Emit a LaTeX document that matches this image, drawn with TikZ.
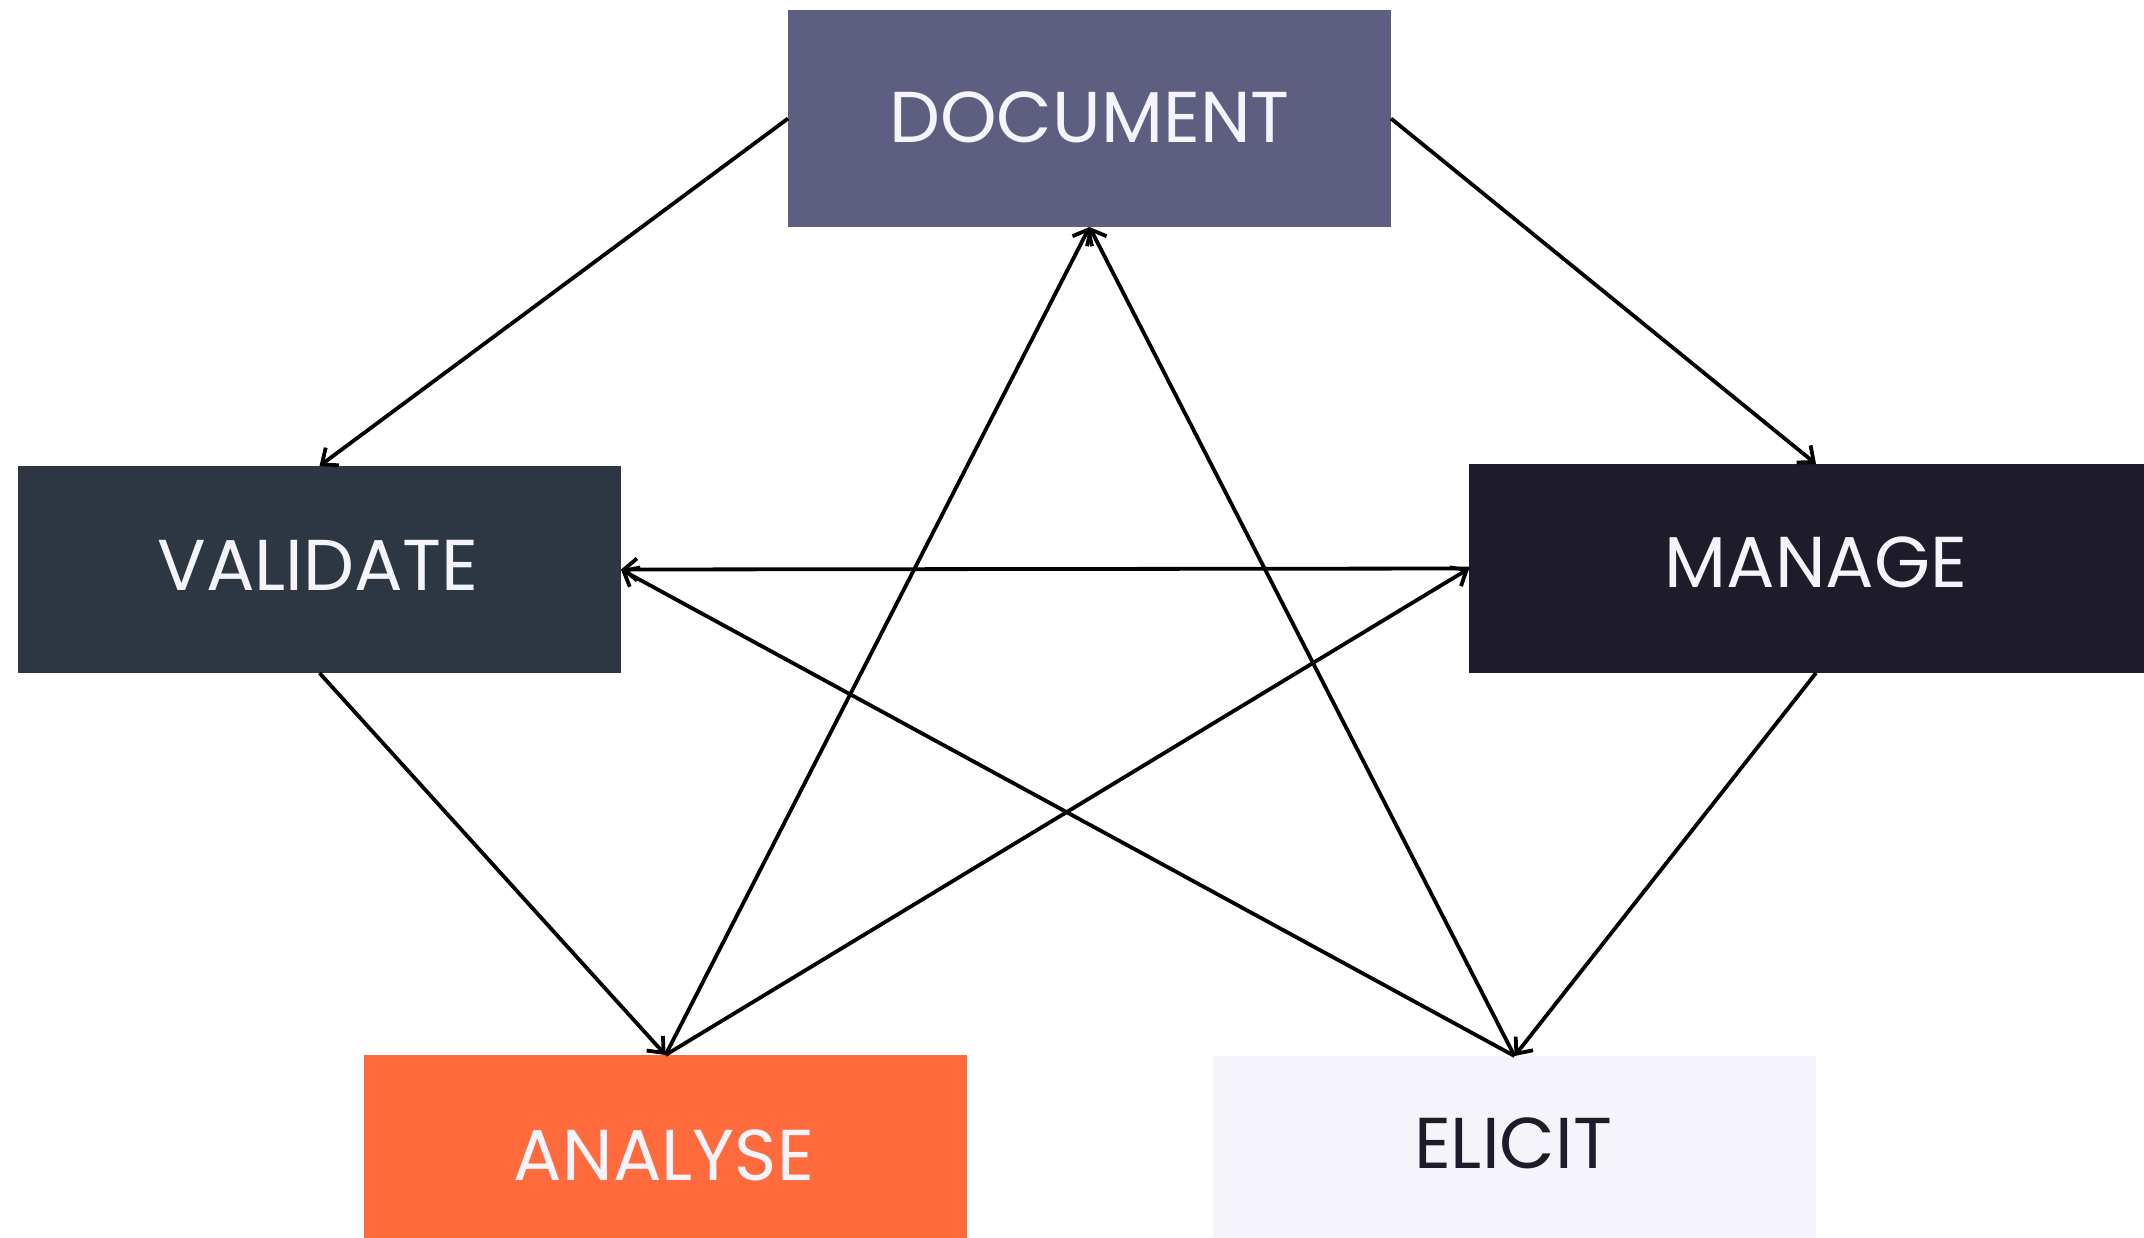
\documentclass[tikz,border=0pt]{standalone}
\usepackage{fontspec}
\setmainfont{Poppins}
\usetikzlibrary{arrows.meta}
\definecolor{docc}{HTML}{5E5E80}
\definecolor{valc}{HTML}{2D3743}
\definecolor{manc}{HTML}{1E1B2B}
\definecolor{anac}{HTML}{FF6B3D}
\definecolor{elic}{HTML}{F4F4FA}
\definecolor{txtw}{HTML}{F4F4FA}
\definecolor{txtd}{HTML}{1E1B2B}
\tikzset{
  box/.style={rectangle, draw=none, inner sep=0pt, outer sep=0pt},
  lbl/.style={inner sep=0pt, font=\fontsize{72}{80}\selectfont},
  conn/.style={line width=3.8pt, black, -{Straight Barb[length=13pt,width=22pt]}}
}
\begin{document}
\begin{tikzpicture}[x=1pt,y=-1pt]
\useasboundingbox (0,0) rectangle (2144,1237);
\fill[white] (0,0) rectangle (2144,1237);
% boxes
\node[box, fill=docc, minimum width=603pt, minimum height=217pt] (doc) at (1089.5,118.5) {};
\node[box, fill=valc, minimum width=603pt, minimum height=207pt] (val) at (319.5,569.5) {};
\node[box, fill=manc, minimum width=694pt, minimum height=209pt] (man) at (1816,568.5) {};
\node[box, fill=anac, minimum width=603pt, minimum height=217pt] (ana) at (665.5,1163.5) {};
\node[box, fill=elic, minimum width=603pt, minimum height=217pt] (eli) at (1514.5,1164.5) {};
% labels
\node[lbl, text=txtw] (doct) at (1089.5,117) {DOCUMENT};
\node[lbl, text=txtw] (valt) at (318,565) {VALIDATE};
\node[lbl, text=txtw] (mant) at (1816,562) {MANAGE};
\node[lbl, text=txtw] (anat) at (664,1155) {ANALYSE};
\node[lbl, text=txtd] (elit) at (1513,1143) {ELICIT};
% connectors
\draw[conn] (doc.west) -- (val.north);
\draw[conn] (doc.east) -- (man.north);
\draw[conn] (val.south) -- (ana.north);
\draw[conn] (man.south) -- (eli.north);
\draw[conn] (man.west) -- (val.east);
\draw[conn] (eli.north) -- (val.east);
\draw[conn] (ana.north) -- (man.west);
\draw[conn] (ana.north) -- (doc.south);
\draw[conn] (eli.north) -- (doc.south);
\end{tikzpicture}
\end{document}
